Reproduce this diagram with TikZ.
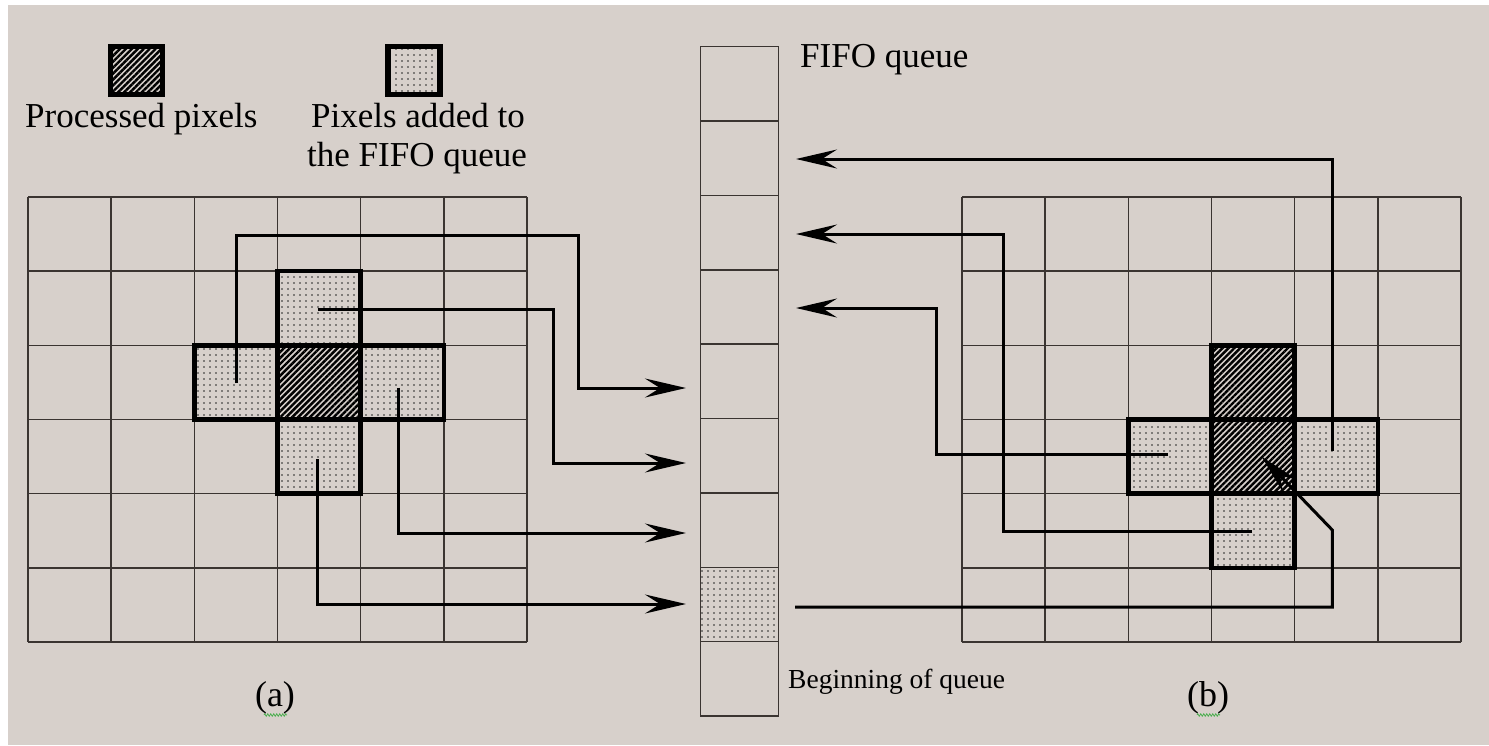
\documentclass[tikz,border=0pt]{standalone}
\usepackage{fontspec}
\setmainfont{Liberation Serif}
\usetikzlibrary{arrows.meta,patterns.meta,decorations.pathmorphing}
\definecolor{paper}{HTML}{D7D0CB}
\definecolor{gridc}{HTML}{3A3431}
\definecolor{squiggle}{HTML}{4CAF50}
\tikzset{
  gridline/.style={draw=gridc,line width=1.4pt},
  done/.style={draw=black,line width=4.5pt,preaction={fill=paper},
    pattern={Lines[angle=45,distance=4.2pt,line width=2.4pt]},pattern color=black},
  queued/.style={draw=black,line width=4.5pt,preaction={fill=paper},
    pattern={Dots[distance=6pt,radius=0.85pt]},pattern color=black!85},
  keydone/.style={done,line width=5.5pt},
  keyqueued/.style={queued,line width=5.5pt},
  qcell/.style={draw=gridc,line width=1.4pt,minimum width=78pt,minimum height=74.37pt,
    inner sep=0pt,outer sep=0pt},
  link/.style={draw=black,line width=3pt},
  push/.style={link,-{Stealth[length=41pt,width=19pt,inset=15pt]}},
  label/.style={inner sep=0pt,font=\fontsize{35}{40}\selectfont},
  smalllabel/.style={inner sep=0pt,font=\fontsize{27.5}{32}\selectfont},
}
\begin{document}
\begin{tikzpicture}[x=1pt,y=-1pt]
  % paper
  \fill[white] (0,0) rectangle (1489,745);
  \fill[paper] (8,5) rectangle (1489,745);
  \useasboundingbox (0,0) rectangle (1489,745);

  % legend
  \path[keydone] (110.7,46.7) rectangle (162.7,94.3);
  \path[keyqueued] (388,46.7) rectangle (440,94.3);
  \node[label,anchor=base west] (lproc) at (25,127) {Processed pixels};
  \node[label,anchor=base] (ladd1) at (418,127) {Pixels added to};
  \node[label,anchor=base] (ladd2) at (417,166) {the FIFO queue};

  % image grid (a)
  \foreach \i in {0,...,6} {
    \draw[gridline] (28+83.17*\i,197) -- (28+83.17*\i,642);
    \draw[gridline] (28,197+74.17*\i) -- (527,197+74.17*\i);
  }
  % image grid (b)
  \foreach \i in {0,...,6} {
    \draw[gridline] (962+83.17*\i,197) -- (962+83.17*\i,642);
    \draw[gridline] (962,197+74.17*\i) -- (1461,197+74.17*\i);
  }

  % pixels of (a)
  \path[queued] (277.5,271.2) rectangle (360.7,345.3);
  \path[queued] (194.3,345.3) rectangle (277.5,419.5);
  \path[queued] (360.7,345.3) rectangle (443.8,419.5);
  \path[queued] (277.5,419.5) rectangle (360.7,493.7);
  \path[done]   (277.5,345.3) rectangle (360.7,419.5);

  % pixels of (b)
  \path[queued] (1128.3,419.5) rectangle (1211.5,493.7);
  \path[queued] (1294.7,419.5) rectangle (1377.8,493.7);
  \path[queued] (1211.5,493.7) rectangle (1294.7,567.8);
  \path[done]   (1211.5,345.3) rectangle (1294.7,419.5);
  \path[done]   (1211.5,419.5) rectangle (1294.7,493.7);

  % FIFO queue
  \foreach \k in {1,...,9} {
    \node[qcell] (q\k) at (739.5,46.7+74.37*\k-37.18) {};
  }
  \path[queued,draw=gridc,line width=1.4pt] (q8.north west) rectangle (q8.south east);
  \node[label,anchor=base west] (fifo) at (800,67) {FIFO queue};
  \node[smalllabel,anchor=base west] (head) at (788,688) {Beginning of queue};

  % connector end points
  \coordinate (aL) at (236.7,383);
  \coordinate (aT) at (317.7,309.3);
  \coordinate (aR) at (398.3,387.7);
  \coordinate (aB) at (317.7,459);
  \coordinate (in5) at (686,388);
  \coordinate (in6) at (686,463);
  \coordinate (in7) at (686,533);
  \coordinate (in8) at (686,604);
  \coordinate (bR) at (1332.3,451);
  \coordinate (bB) at (1252,531);
  \coordinate (bL) at (1168,454.3);
  \coordinate (in2) at (796,159);
  \coordinate (in3) at (796,234);
  \coordinate (in4) at (796,308);
  \coordinate (out8) at (795,607);
  \coordinate (bC) at (1261.7,456.7);

  % neighbours of (a) pushed into the queue
  \draw[push] (aL) |- (578,235.5) |- (in5);
  \draw[push] (aT) -| (553,400) |- (in6);
  \draw[push] (aR) |- (in7);
  \draw[push] (aB) |- (in8);

  % neighbours of (b) pushed into the queue
  \draw[push] (bR) |- (in2);
  \draw[push] (bB) -| (1003,300) |- (in3);
  \draw[push] (bL) -| (936.7,380) |- (in4);

  % head of the queue taken as the next pixel
  \draw[push] (out8) -| (1332.3,530) -- (bC);

  % captions
  \node[label,anchor=base,font=\fontsize{36}{40}\selectfont] (capa) at (275,706) {(a)};
  \node[label,anchor=base,font=\fontsize{36}{40}\selectfont] (capb) at (1208,706) {(b)};
  \draw[squiggle,line width=0.8pt,decorate,decoration={zigzag,amplitude=1.2pt,segment length=3pt}]
    (264,715) -- (287,715);
  \draw[squiggle,line width=0.8pt,decorate,decoration={zigzag,amplitude=1.2pt,segment length=3pt}]
    (1197,715) -- (1220,715);
\end{tikzpicture}
\end{document}
